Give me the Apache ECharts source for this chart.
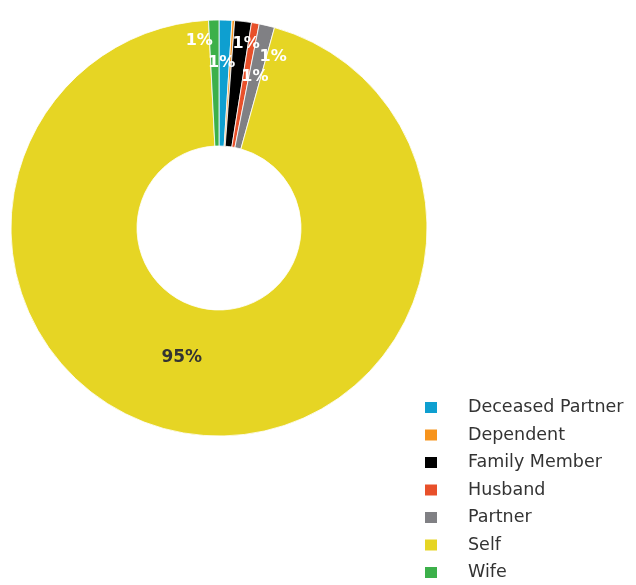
<!DOCTYPE html>
<html>
<head>
<meta charset="utf-8">
<script src="https://cdn.jsdelivr.net/npm/echarts@6/dist/echarts.min.js"></script>
<style>
  html, body { margin: 0; padding: 0; background: #fff; }
  #chart { width: 636px; height: 585px; }
</style>
</head>
<body>
<div id="chart"></div>
<script>
// Relationship of claimant to policy holder, share of claims (%)
const categories = ['Deceased Partner', 'Dependent', 'Family Member', 'Husband', 'Partner', 'Self', 'Wife'];
const shares = [1.0, 0.2, 1.3, 0.6, 1.2, 94.9, 0.8];
const colors = ['#0e9fd0', '#f7941d', '#000000', '#e8502a', '#808084', '#e6d524', '#3cb04a'];

// label nudges so the crowded small-slice labels sit apart from each other
const labelNudge = [[-2, -17], [0, 0], [10, -37], [10, -5], [20, -27], [-21, -18], [-16, -39]];

const chart = echarts.init(document.getElementById('chart'));

const data = categories.map((name, i) => ({
  name: name,
  value: shares[i],
  itemStyle: { color: colors[i] },
  label: name === 'Self'
    ? { color: '#333333', fontSize: 17 }
    : { show: Math.round(shares[i]) > 0, color: '#ffffff', fontSize: 16 }
}));

chart.setOption({
  animation: false,
  legend: {
    orient: 'vertical',
    left: 418,
    top: 393,
    height: 190,
    itemWidth: 14,
    itemHeight: 13,
    itemGap: 8.5,
    icon: 'rect',
    data: categories,
    textStyle: {
      fontFamily: 'DejaVu Sans',
      fontSize: 17.5,
      lineHeight: 19,
      color: '#333333',
      padding: [0, 0, 0, 25]
    }
  },
  series: [{
    type: 'pie',
    center: [219, 228],
    radius: [82, 208],
    startAngle: 90,
    clockwise: true,
    percentPrecision: 0,
    itemStyle: { borderColor: '#ffffff', borderWidth: 0.8 },
    label: {
      position: 'inside',
      formatter: '{d}%',
      fontFamily: 'DejaVu Sans',
      fontWeight: 'bold'
    },
    labelLine: { show: false },
    labelLayout: function (params) {
      const n = labelNudge[params.dataIndex];
      return { dx: n[0], dy: n[1] };
    },
    data: data
  }]
});
</script>
</body>
</html>
